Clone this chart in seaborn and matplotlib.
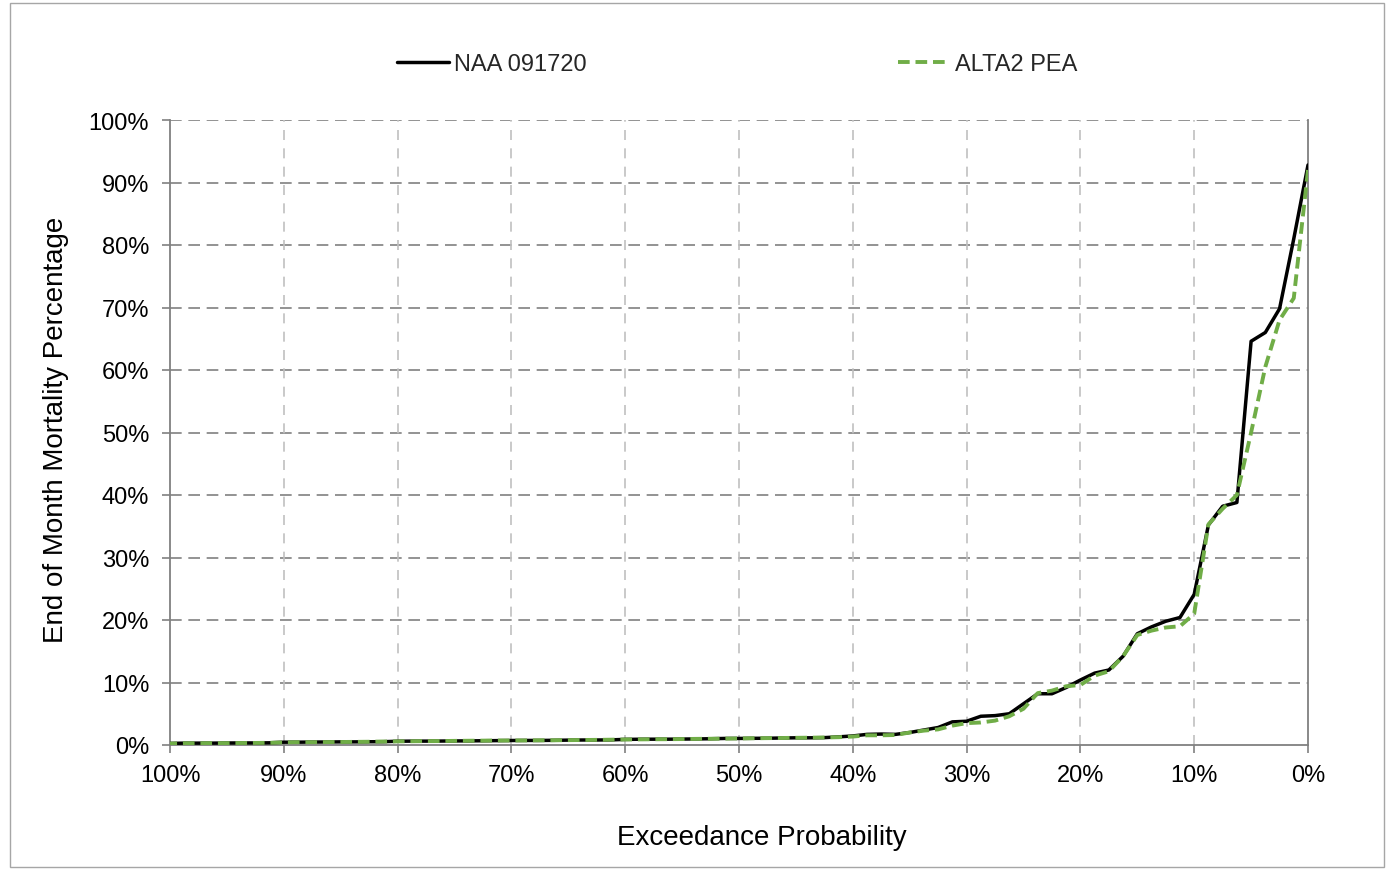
import matplotlib
matplotlib.use("Agg")
import matplotlib.pyplot as plt
import seaborn as sns
import pandas as pd
from matplotlib.ticker import FuncFormatter
from matplotlib.patches import Rectangle

# ---- data ----
PROB = [100, 98.75, 97.5, 96.25, 95, 93.75, 92.5, 91.25, 90, 88.75, 87.5, 86.25,
        85, 83.75, 82.5, 81.25, 80, 78.75, 77.5, 76.25, 75, 73.75, 72.5, 71.25,
        70, 68.75, 67.5, 66.25, 65, 63.75, 62.5, 61.25, 60, 58.75, 57.5, 56.25,
        55, 53.75, 52.5, 51.25, 50, 48.75, 47.5, 46.25, 45, 43.75, 42.5, 41.25,
        40, 38.75, 37.5, 36.25, 35, 33.75, 32.5, 31.25, 30, 28.75, 27.5, 26.25,
        25, 23.75, 22.5, 21.25, 20, 18.75, 17.5, 16.25, 15, 13.75, 12.5, 11.25,
        10, 8.75, 7.5, 6.25, 5, 3.75, 2.5, 1.25, 0]

NAA_091720 = [0.25, 0.30, 0.30, 0.30, 0.32, 0.33, 0.33, 0.35, 0.45, 0.45, 0.47, 0.48,
              0.50, 0.50, 0.52, 0.53, 0.60, 0.62, 0.62, 0.63, 0.65, 0.66, 0.68, 0.70,
              0.72, 0.73, 0.73, 0.75, 0.78, 0.80, 0.80, 0.82, 0.90, 0.92, 0.93, 0.93,
              0.95, 0.97, 1.00, 1.05, 1.05, 1.07, 1.08, 1.12, 1.15, 1.15, 1.18, 1.30,
              1.45, 1.70, 1.75, 1.70, 2.0, 2.4, 2.8, 3.7, 3.8, 4.6, 4.7, 5.0,
              6.6, 8.2, 8.2, 9.2, 10.4, 11.5, 12.0, 14.2, 17.8, 18.9, 19.8, 20.4,
              24.1, 35.2, 38.2, 38.8, 64.6, 66.0, 69.8, 81.0, 92.8]

ALTA2_PEA = [0.22, 0.28, 0.28, 0.30, 0.30, 0.32, 0.33, 0.35, 0.42, 0.45, 0.45, 0.47,
             0.48, 0.50, 0.52, 0.55, 0.58, 0.60, 0.62, 0.63, 0.66, 0.68, 0.70, 0.72,
             0.72, 0.73, 0.75, 0.76, 0.78, 0.80, 0.82, 0.85, 0.88, 0.90, 0.92, 0.93,
             0.95, 0.98, 1.00, 1.02, 1.05, 1.08, 1.10, 1.12, 1.15, 1.17, 1.20, 1.25,
             1.35, 1.55, 1.55, 1.60, 2.0, 2.3, 2.5, 3.1, 3.5, 3.6, 3.9, 4.6,
             5.8, 8.3, 8.7, 9.4, 9.6, 11.1, 11.8, 14.2, 17.6, 18.3, 18.8, 19.0,
             21.0, 35.3, 37.8, 40.0, 50.0, 60.5, 68.0, 71.5, 92.0]

SERIES = ["NAA 091720", "ALTA2 PEA"]
X_TICKS = [100, 90, 80, 70, 60, 50, 40, 30, 20, 10, 0]
Y_TICKS = [0, 10, 20, 30, 40, 50, 60, 70, 80, 90, 100]

df = pd.DataFrame({
    "prob": PROB + PROB,
    "value": NAA_091720 + ALTA2_PEA,
    "series": [SERIES[0]] * len(PROB) + [SERIES[1]] * len(PROB),
})

sns.set_theme(style="white")
plt.rcParams["font.family"] = ["Liberation Sans", "DejaVu Sans"]

fig = plt.figure(figsize=(13.87, 8.70), dpi=100)
ax = fig.add_axes([170 / 1387, 1 - 746 / 870, (1308 - 170) / 1387, (746 - 121) / 870])

sns.lineplot(data=df[df.series == SERIES[0]], x="prob", y="value", ax=ax,
             color="black", linewidth=2.5, label=SERIES[0], zorder=3)
sns.lineplot(data=df[df.series == SERIES[1]], x="prob", y="value", ax=ax,
             color="#70ad47", linewidth=2.8, label=SERIES[1], zorder=4)
ax.lines[1].set_dashes((3.0, 1.5))

ax.set_xlim(100, 0)
ax.set_ylim(0, 100)
ax.set_xticks(X_TICKS)
ax.set_yticks(Y_TICKS)
fmt = FuncFormatter(lambda v, p: f"{v:.0f}%")
ax.xaxis.set_major_formatter(fmt)
ax.yaxis.set_major_formatter(fmt)

# grid
for y in Y_TICKS[1:]:
    ax.axhline(y, color="#808080", lw=1.2, dashes=(7, 4), zorder=1)
for x in X_TICKS[1:-1]:
    ax.axvline(x, color="#c0c0c0", lw=1.2, dashes=(6, 5), zorder=1)

for s in ["left", "bottom", "right"]:
    ax.spines[s].set_color("#808080")
    ax.spines[s].set_linewidth(1.3)
ax.spines["top"].set_visible(False)

ax.tick_params(axis="both", which="major", direction="out", length=6, width=1.2,
               color="#808080", labelsize=17, labelcolor="black")
ax.tick_params(axis="x", pad=8, bottom=True)
ax.tick_params(axis="y", pad=9, left=True)

ax.set_xlabel("Exceedance Probability", fontsize=20, color="black")
ax.xaxis.set_label_coords((762 - 170) / 1138, -(838 - 746) / 625)
ax.xaxis.label.set_verticalalignment("center")
ax.set_ylabel("End of Month Mortality Percentage", fontsize=20, color="black")
ax.yaxis.set_label_coords(-(170 - 56) / 1138, (746 - 430) / 625)
ax.yaxis.label.set_verticalalignment("center")

ax.get_legend().remove()
handles = ax.lines[:2]
fig.legend(handles, SERIES, loc="center", bbox_to_anchor=(737 / 1387, 1 - 65 / 870),
           ncol=2, frameon=False, fontsize=17, handlelength=2.2, handletextpad=0.2,
           columnspacing=13.2)

fig.patches.append(Rectangle((10 / 1387, 2 / 870), (1384 - 10) / 1387, (866 - 2) / 870,
                             transform=fig.transFigure, fill=False,
                             edgecolor="#a6a6a6", linewidth=1.0))

fig.savefig("out.png", dpi=100)
